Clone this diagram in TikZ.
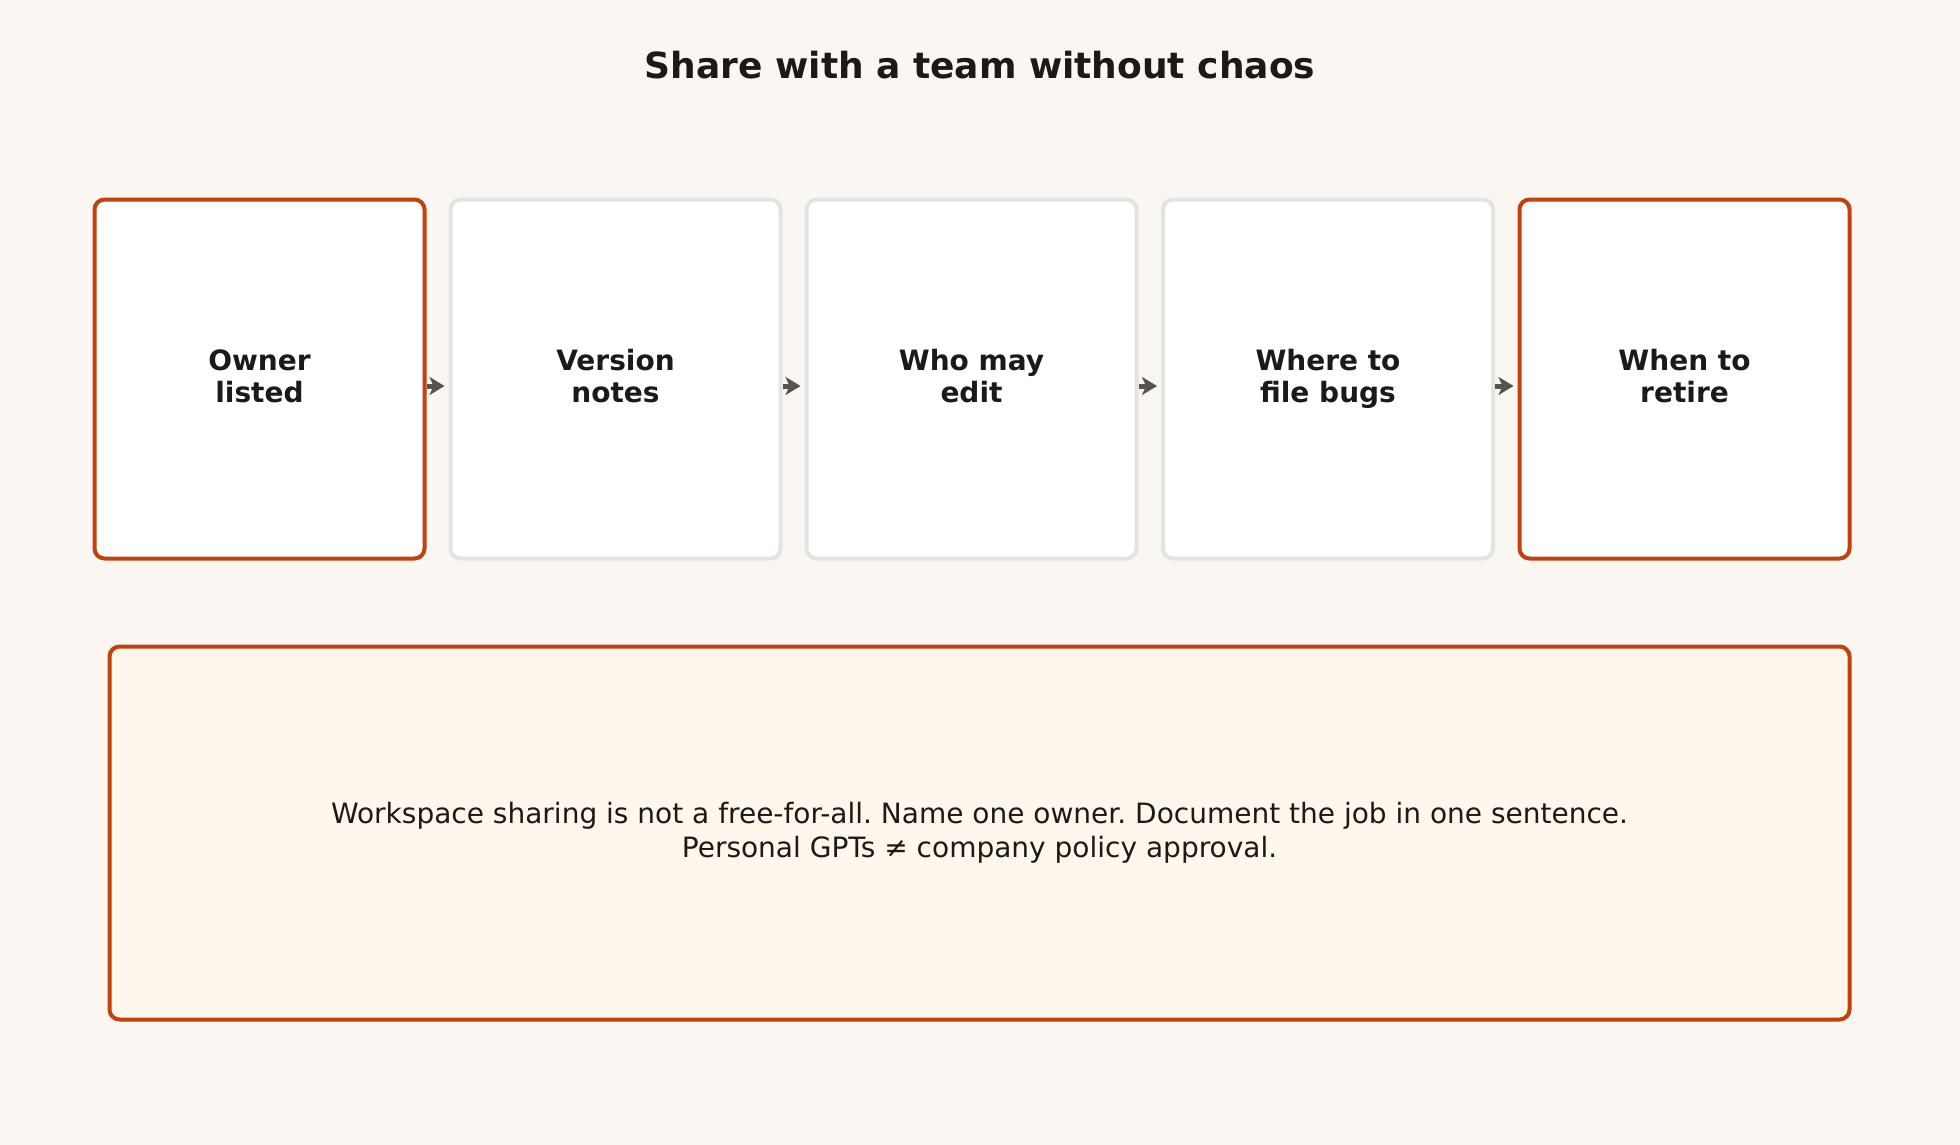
\documentclass[tikz,border=0pt]{standalone}
\usepackage{fontspec}
\setmainfont{DejaVu Sans}
\usetikzlibrary{arrows.meta}

\definecolor{bgpaper}{HTML}{FAF7F3}
\definecolor{rust}{HTML}{C2410C}
\definecolor{stone}{HTML}{E5E3E0}
\definecolor{ink}{HTML}{1C1917}
\definecolor{arrowgray}{HTML}{57534E}
\definecolor{notefill}{HTML}{FFF7EC}

\begin{document}
\frenchspacing
\begin{tikzpicture} [x=1pt, y=-1pt, align=center,
	card/.style={rectangle, rounded corners=10pt, draw=stone, line width=4pt, fill=white,
		minimum width=330pt, minimum height=359pt, inner sep=0pt, text=ink,
		font=\fontsize{28}{32.5}\selectfont\bfseries},
	keycard/.style={card, draw=rust},
	link/.style={-{Stealth[length=15pt, width=18pt, inset=4pt]}, line width=5pt, draw=arrowgray, shorten >=4pt}]

\fill[bgpaper] (0,0) rectangle (1960,1145);
\useasboundingbox (0,0) rectangle (1960,1145);

\path (980,65) node[text=ink, font=\fontsize{36}{40}\selectfont\bfseries] (title) {Share with a team without chaos}

	  (259.5,379) node[keycard] (c0) {Owner\\listed\vphantom{gy}}
	  (615.5,379) node[card] (c1) {Version\\notes\vphantom{gy}}
	  (971.5,379) node[card] (c2) {Who may\\edit\vphantom{gy}}
	  (1328,379) node[card] (c3) {Where to\\file bugs\vphantom{gy}}
	  (1684.5,379) node[keycard] (c4) {When to\\retire\vphantom{gy}}

	  (979.5,833) node[rectangle, rounded corners=10pt, draw=rust, line width=4pt, fill=notefill,
		minimum width=1740pt, minimum height=373pt, text=ink,
		font=\fontsize{28}{34}\selectfont] (note) {Workspace sharing is not a free-for-all. Name one owner. Document the job in one sentence.\\Personal GPTs ≠ company policy approval.};

\draw[link] ([yshift=-7pt]c0.east) to ([yshift=-7pt]c1.west);
\draw[link] ([yshift=-7pt]c1.east) to ([yshift=-7pt]c2.west);
\draw[link] ([yshift=-7pt]c2.east) to ([yshift=-7pt]c3.west);
\draw[link] ([yshift=-7pt]c3.east) to ([yshift=-7pt]c4.west);

\end{tikzpicture}
\end{document}
